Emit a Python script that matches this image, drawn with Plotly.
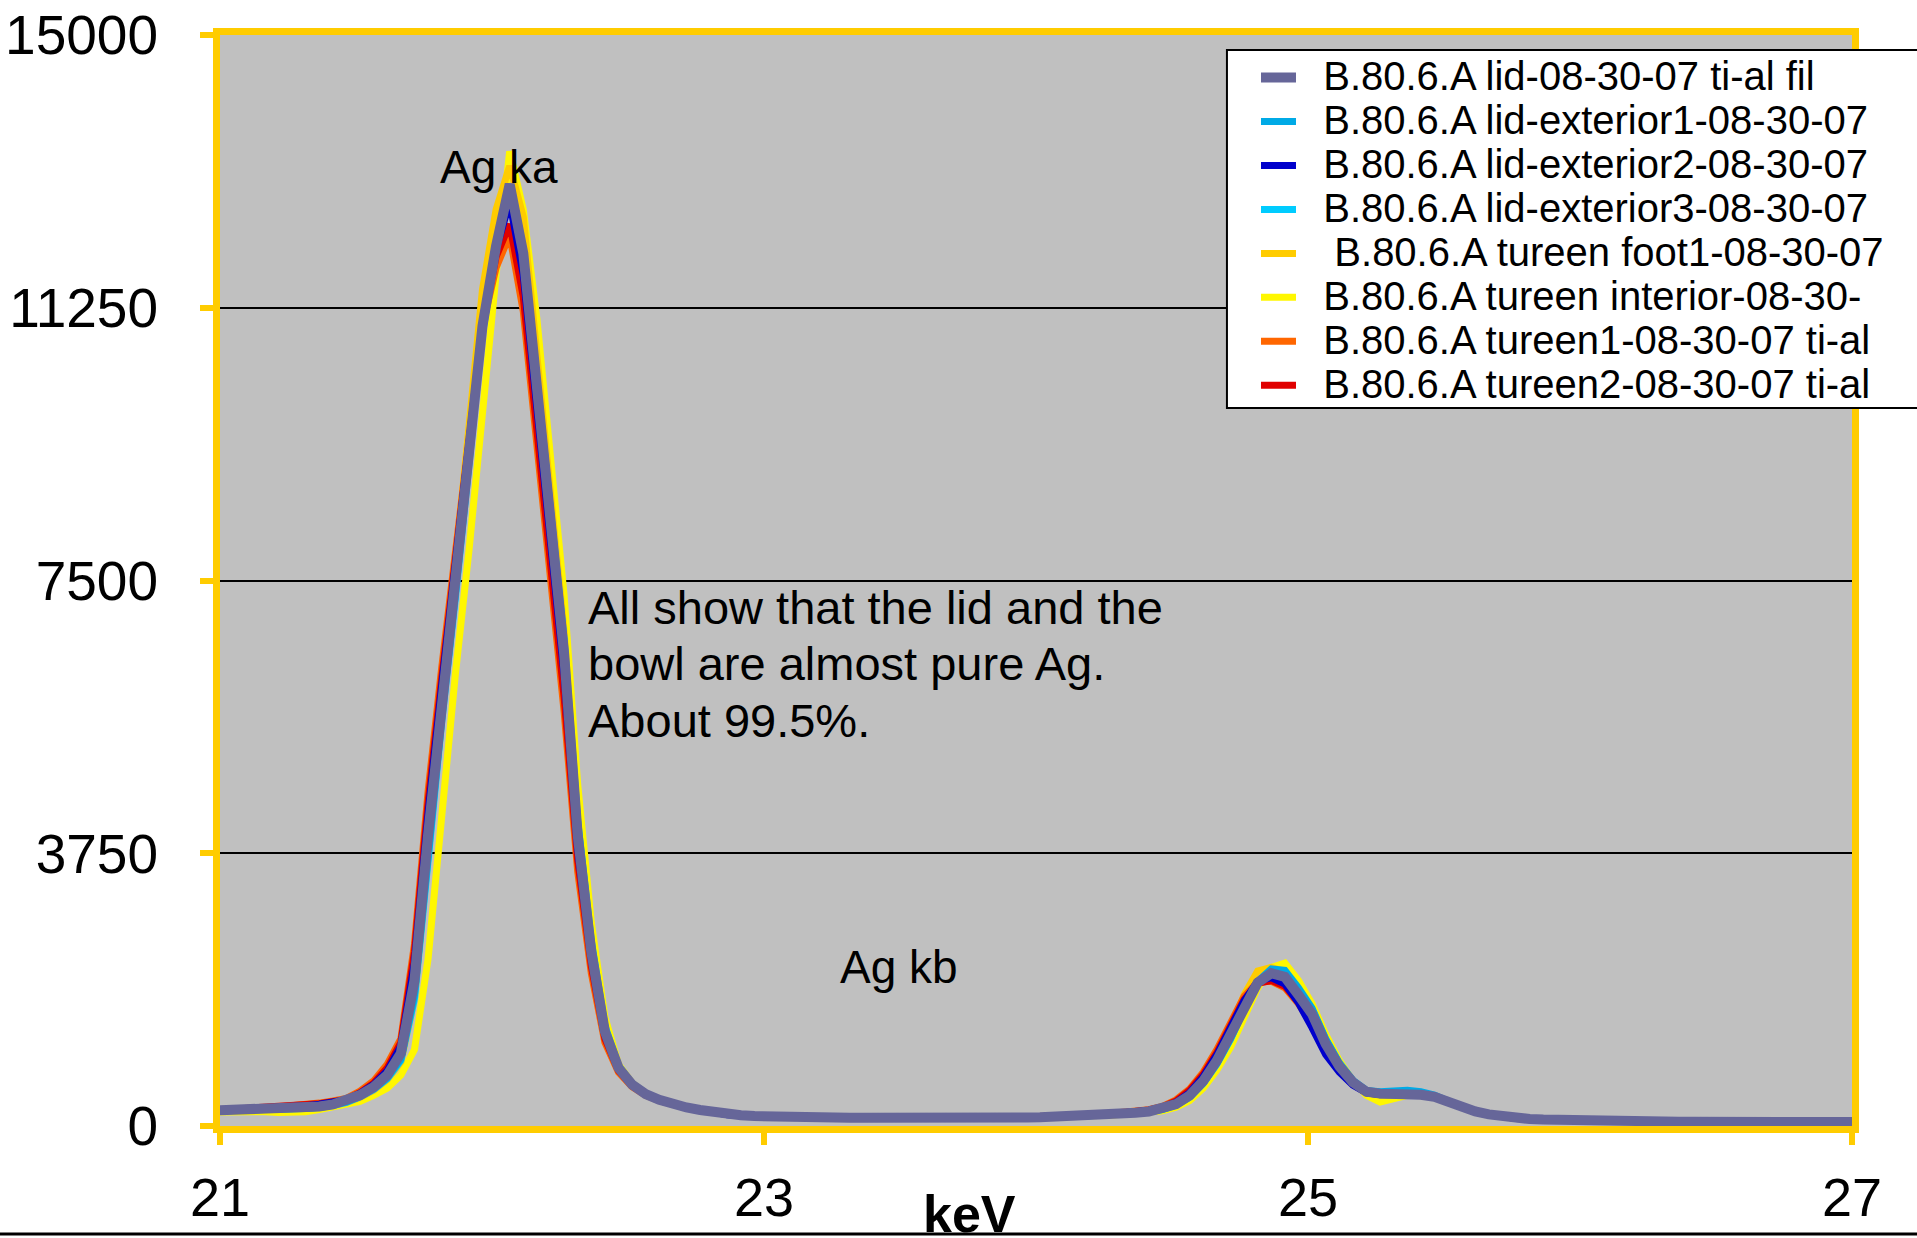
import plotly.graph_objects as go

# Energy channels (keV), 0.05 keV spacing
energy_kev = [round(20.965 + 0.05 * i, 3) for i in range(122)]

series_names = [
    "B.80.6.A lid-08-30-07 ti-al fil",
    "B.80.6.A lid-exterior1-08-30-07",
    "B.80.6.A lid-exterior2-08-30-07",
    "B.80.6.A lid-exterior3-08-30-07",
    " B.80.6.A tureen foot1-08-30-07",
    "B.80.6.A tureen interior-08-30-",
    "B.80.6.A tureen1-08-30-07 ti-al",
    "B.80.6.A tureen2-08-30-07 ti-al",
]

lid_fil = [
    212, 215, 219, 222, 226, 231, 238, 250, 268, 296,
    345, 425, 535, 700, 1000, 2000, 4000, 5800, 7450, 9200, 11000, 12100, 12950, 12000, 10100, 8400, 6500, 4000, 2400, 1300, 800, 570, 440, 360, 300, 255, 220,
    190, 165, 148, 136, 128, 125, 121, 120, 117, 116, 113, 112, 110, 111, 109, 108, 109, 110, 109, 111, 112, 114, 115, 118, 121, 125, 130, 137, 146, 156, 168,
    183, 200, 235, 300, 420, 620, 900, 1250, 1650, 1970, 2100, 2050, 1800, 1540, 1130, 820, 600, 470, 445, 450, 450, 430, 400, 330, 260, 200, 160, 128,
    108, 96, 88, 82, 77, 73, 70, 67, 65, 63, 62, 61, 60, 59, 58, 58, 57, 57, 56, 56, 55, 55, 55, 54, 54, 54,
]
lid_ext1 = [
    205, 208, 212, 216, 220, 226, 232, 242, 258, 285,
    330, 405, 510, 660, 920, 1800, 3750, 5600, 7300, 9100, 10950, 12100, 12850, 12050, 10200, 8550, 6650, 4150, 2500, 1350, 820, 580, 450, 365, 305, 258, 222,
    195, 170, 152, 139, 131, 127, 124, 122, 119, 117, 115, 113, 112, 112, 110, 110, 110, 111, 111, 112, 113, 115, 117, 119, 122, 126, 131, 138, 146, 156, 168,
    180, 195, 228, 290, 400, 590, 860, 1200, 1620, 1990, 2160, 2140, 1900, 1620, 1200, 870, 630, 490, 470, 480, 490, 470, 425, 345, 270, 205, 162, 130,
    110, 98, 89, 83, 78, 74, 71, 68, 66, 64, 62, 61, 60, 59, 59, 58, 58, 57, 57, 56, 56, 55, 55, 55, 54, 54,
]
lid_ext2 = [
    225, 240, 232, 236, 242, 252, 265, 280, 300, 330,
    360, 450, 570, 760, 1100, 2250, 4300, 6050, 7650, 9350, 11050, 12050, 12700, 11700, 9800, 8100, 6200, 3800, 2300, 1250, 790, 565, 440, 358, 300, 255, 222,
    180, 155, 140, 130, 124, 120, 118, 117, 115, 114, 112, 110, 109, 109, 108, 107, 108, 109, 110, 111, 113, 114, 116, 119, 123, 128, 134, 142, 152, 165, 180,
    190, 212, 250, 325, 460, 680, 980, 1330, 1720, 1990, 2040, 1950, 1690, 1350, 980, 740, 560, 455, 430, 430, 440, 425, 395, 325, 255, 198, 158, 126,
    104, 93, 86, 80, 76, 72, 69, 66, 64, 63, 61, 60, 59, 58, 58, 57, 57, 56, 56, 55, 55, 55, 54, 54, 54, 53,
]
lid_ext3 = [
    200, 205, 210, 214, 218, 224, 230, 240, 255, 282,
    325, 400, 500, 650, 900, 1750, 3700, 5550, 7250, 9050, 10900, 12050, 12800, 12050, 10250, 8600, 6700, 4200, 2550, 1380, 830, 585, 452, 366, 306, 258, 221,
    192, 168, 150, 138, 130, 126, 123, 121, 118, 117, 114, 113, 111, 111, 110, 109, 110, 110, 111, 112, 113, 115, 116, 119, 122, 126, 131, 137, 145, 155, 167,
    178, 193, 225, 285, 395, 585, 850, 1190, 1600, 1960, 2130, 2110, 1880, 1600, 1190, 860, 620, 480, 455, 460, 465, 445, 410, 335, 265, 203, 160, 129,
    109, 97, 88, 82, 77, 73, 70, 67, 65, 64, 62, 61, 60, 59, 58, 58, 57, 57, 56, 56, 55, 55, 55, 54, 54, 54,
]
tureen_foot1 = [
    205, 210, 215, 218, 222, 226, 232, 242, 260, 285,
    320, 390, 490, 640, 880, 1750, 3800, 5900, 7700, 9600, 11500, 12600, 13200, 12500, 10600, 8800, 6800, 4200, 2500, 1350, 810, 575, 445, 362, 302, 256, 220,
    190, 166, 149, 137, 129, 126, 122, 121, 118, 117, 114, 113, 111, 111, 110, 109, 110, 110, 110, 112, 113, 114, 116, 118, 121, 125, 129, 135, 143, 152, 164,
    185, 205, 245, 320, 450, 660, 960, 1340, 1800, 2130, 2180, 2120, 1880, 1600, 1180, 850, 610, 470, 440, 445, 445, 430, 400, 330, 262, 200, 160, 128,
    108, 96, 88, 82, 77, 73, 70, 67, 65, 63, 62, 61, 60, 59, 58, 58, 57, 57, 56, 56, 55, 55, 55, 54, 54, 54,
]
tureen_interior = [
    190, 195, 198, 200, 196, 185, 178, 195, 225, 260,
    290, 340, 420, 520, 700, 1050, 2300, 4300, 6200, 7900, 9900, 11700, 13400, 12600, 11100, 9300, 7300, 4700, 2800, 1500, 850, 590, 445, 358, 300, 253, 216,
    185, 162, 146, 135, 127, 124, 121, 120, 117, 116, 114, 112, 111, 110, 110, 109, 109, 110, 110, 111, 112, 113, 115, 117, 120, 123, 127, 133, 140, 149, 160,
    172, 185, 210, 260, 350, 520, 770, 1080, 1500, 1900, 2180, 2240, 2000, 1680, 1260, 900, 620, 420, 330, 380, 420, 420, 395, 330, 262, 200, 158, 127,
    107, 95, 87, 81, 77, 73, 70, 67, 65, 63, 62, 61, 60, 59, 58, 58, 57, 57, 56, 56, 55, 55, 54, 54, 54, 54,
]
tureen1 = [
    210, 225, 245, 250, 255, 262, 272, 290, 315, 345,
    380, 480, 620, 850, 1200, 2500, 4600, 6300, 7900, 9500, 11000, 11800, 12250, 11200, 9300, 7600, 5700, 3500, 2100, 1150, 740, 540, 420, 350, 295, 250, 215,
    188, 163, 147, 134, 127, 124, 122, 119, 118, 115, 114, 111, 112, 110, 109, 110, 108, 111, 110, 112, 113, 115, 117, 120, 124, 129, 135, 143, 153, 166, 182,
    200, 225, 270, 360, 510, 740, 1050, 1420, 1780, 1980, 1990, 1900, 1680, 1400, 1050, 770, 570, 460, 440, 445, 445, 425, 395, 325, 255, 195, 155, 125,
    105, 94, 86, 80, 76, 72, 69, 66, 64, 62, 61, 60, 59, 58, 58, 57, 57, 56, 56, 55, 55, 54, 54, 54, 53, 53,
]
tureen2 = [
    212, 222, 235, 242, 248, 255, 265, 282, 305, 335,
    365, 460, 590, 800, 1150, 2400, 4450, 6150, 7800, 9450, 11000, 11950, 12400, 11400, 9500, 7800, 5900, 3650, 2200, 1200, 760, 550, 430, 352, 297, 252, 217,
    189, 164, 146, 135, 128, 123, 121, 120, 116, 115, 113, 112, 110, 110, 108, 109, 109, 110, 111, 111, 113, 114, 116, 119, 123, 128, 134, 141, 151, 163, 178,
    195, 220, 262, 345, 490, 710, 1010, 1380, 1740, 1960, 2000, 1920, 1700, 1420, 1060, 775, 575, 462, 440, 446, 446, 426, 396, 327, 257, 197, 157, 126,
    106, 95, 87, 81, 76, 72, 69, 67, 64, 63, 61, 60, 59, 59, 58, 57, 57, 56, 56, 56, 55, 55, 54, 54, 54, 53,
]

series_values = [lid_fil, lid_ext1, lid_ext2, lid_ext3, tureen_foot1, tureen_interior, tureen1, tureen2]
series_colors = ["#666699", "#00AAE6", "#0000CC", "#00CCFF", "#FFCC00", "#FFF700", "#FF6600", "#E00000"]
series_widths = [10, 7, 7, 7, 7, 7, 7, 7]
draw_order = [5, 4, 3, 1, 6, 7, 2, 0]

x_ticks = [21, 23, 25, 27]
y_ticks = [0, 3750, 7500, 11250, 15000]

note_lines = ["All show that the lid and the", "bowl are almost pure Ag.", "About 99.5%."]
note_y = [7128, 6354, 5581]

FONT = "Liberation Sans, Arial, sans-serif"
YELLOW = "#FFCC00"
NBSP = "\u00a0"

fig = go.Figure()
for k in draw_order:
    fig.add_trace(go.Scatter(
        x=energy_kev, y=series_values[k],
        name=f'<span style="font-size:40px">{NBSP * 2}{series_names[k]}</span>',
        mode="lines",
        line=dict(color=series_colors[k], width=series_widths[k]),
        legendrank=k + 1,
    ))

annotations = [
    dict(x=22.026, y=13186, text="Ag ka", showarrow=False,
         xanchor="center", yanchor="middle", font=dict(size=46, family=FONT)),
    dict(x=23.496, y=2186, text="Ag kb", showarrow=False,
         xanchor="center", yanchor="middle", font=dict(size=46, family=FONT)),
    dict(x=23.754, y=-0.0525, xref="x", yref="paper", text="<b>keV</b>", showarrow=False,
         xanchor="center", yanchor="top", font=dict(size=52, family=FONT)),
]
for line_text, yv in zip(note_lines, note_y):
    annotations.append(dict(x=22.346, y=yv, text=line_text, showarrow=False,
                            xanchor="left", yanchor="middle", align="left",
                            font=dict(size=47, family=FONT)))

fig.update_layout(
    width=1917, height=1238,
    margin=dict(l=220, r=65, t=35, b=112, pad=0, autoexpand=False),
    plot_bgcolor="#C0C0C0", paper_bgcolor="white",
    font=dict(family=FONT, color="black"),
    showlegend=True,
    legend=dict(
        x=0.6348, y=0.9857, xanchor="left", yanchor="top",
        bgcolor="rgba(0,0,0,0)", borderwidth=0,
        font=dict(size=31.5, family=FONT, color="black"),
        itemwidth=35,
    ),
    xaxis=dict(
        range=[21, 27], tickvals=x_ticks, ticktext=[str(v) for v in x_ticks],
        showgrid=False, zeroline=False, showline=True, mirror=True,
        linecolor=YELLOW, linewidth=7,
        ticks="outside", ticklen=12, tickwidth=6, tickcolor=YELLOW,
        tickfont=dict(size=54, family=FONT, color="black"),
        ticklabelstandoff=6,
    ),
    yaxis=dict(
        range=[0, 15000], tickvals=y_ticks, ticktext=[str(v) for v in y_ticks],
        showgrid=True, gridcolor="black", gridwidth=2,
        zeroline=False, showline=True, mirror=True,
        linecolor=YELLOW, linewidth=7,
        ticks="outside", ticklen=13, tickwidth=6, tickcolor=YELLOW,
        tickfont=dict(size=55, family=FONT, color="black"),
        ticklabelstandoff=31,
    ),
    annotations=annotations,
    shapes=[
        dict(type="line", xref="paper", yref="paper", x0=-0.2, x1=1.1, y0=-0.099, y1=-0.099,
             line=dict(color="black", width=3)),
        dict(type="rect", xref="paper", yref="paper", x0=0.617, x1=1.2, y0=0.6581, y1=0.9863,
             fillcolor="white", line=dict(color="black", width=2), layer="above"),
    ],
)

fig.write_html("out.html", config={"displayModeBar": False},
               post_script="document.body.style.margin='0px';")
